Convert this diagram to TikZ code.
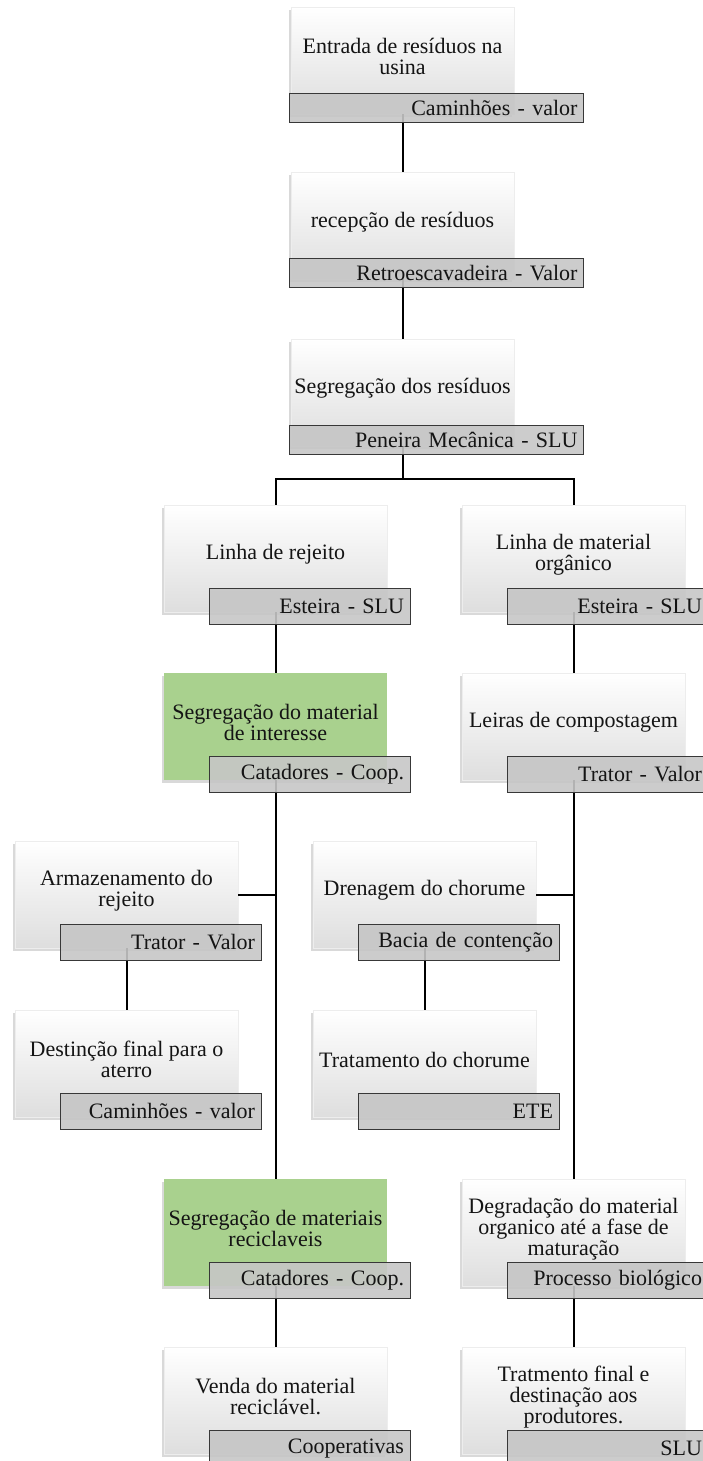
\documentclass[tikz,border=0pt]{standalone}
\usepackage{fontspec}
\setmainfont{Liberation Serif}
\usetikzlibrary{shadows}
\definecolor{boxgreen}{RGB}{169,209,142}
\definecolor{lblgray}{RGB}{198,198,198}
\definecolor{lbldraw}{RGB}{56,56,56}
\pgfdeclarelayer{back}
\pgfdeclarelayer{mid}
\pgfsetlayers{back,mid,main}
\newcommand{\mkunit}[7]{%
  \begin{pgfonlayer}{back}
    \node[#4] (#1) at (#2,#3) {};
  \end{pgfonlayer}
  \node[maintext] (#1t) at ([yshift=4pt]#1.center) {#5};
  \node[#7] (#1l) at ([xshift=34pt,yshift=6pt]#1.south) {#6};
}
\begin{document}
\begin{tikzpicture}[x=1pt,y=-1pt,
  basebox/.style={rectangle, anchor=north, minimum width=223pt, minimum height=107pt,
    inner sep=0pt, drop shadow={shadow xshift=-2pt, shadow yshift=-2.5pt, opacity=0.3}},
  whitebox/.style={basebox, draw=black!7, line width=0.4pt,
    top color=white, middle color=white, bottom color=black!13},
  greenbox/.style={basebox, fill=boxgreen},
  maintext/.style={align=center, inner sep=0pt, text=black!92,
    font=\fontsize{22}{21}\selectfont},
  lbl/.style={rectangle, draw=lbldraw, line width=1pt, fill=lblgray, fill opacity=0.9,
    text opacity=1, inner xsep=6pt, inner ysep=0pt, align=right, text=black!92,
    font=\fontsize{22}{22}\selectfont},
  lblstd/.style={lbl, text width=189pt, minimum height=36pt},
  lblwide/.style={lbl, text width=282pt, minimum height=29pt},
  conn/.style={draw=black, line width=2pt}
]
\useasboundingbox (0,0) rectangle (703,1461);

\mkunit{B1}{402.5}{7}{whitebox}{Entrada de resíduos na\\usina}{Caminhões - valor}{lblwide}
\mkunit{B2}{402.5}{172}{whitebox}{recepção de resíduos}{Retroescavadeira - Valor}{lblwide}
\mkunit{B3}{402.5}{339}{whitebox}{Segregação dos resíduos}{Peneira Mecânica - SLU}{lblwide}
\mkunit{R4}{275.5}{505}{whitebox}{Linha de rejeito}{Esteira - SLU}{lblstd}
\mkunit{O4}{573.5}{505}{whitebox}{Linha de material\\orgânico}{Esteira - SLU}{lblstd}
\mkunit{G5}{275.5}{673}{greenbox}{Segregação do material\\de interesse}{Catadores - Coop.}{lblstd}
\mkunit{L5}{573.5}{673}{whitebox}{Leiras de compostagem}{Trator - Valor}{lblstd}
\mkunit{A6}{126.5}{841}{whitebox}{Armazenamento do\\rejeito}{Trator - Valor}{lblstd}
\mkunit{D6}{424.5}{841}{whitebox}{Drenagem do chorume}{Bacia de contenção}{lblstd}
\mkunit{A7}{126.5}{1010}{whitebox}{Destinção final para o\\aterro}{Caminhões - valor}{lblstd}
\mkunit{D7}{424.5}{1010}{whitebox}{Tratamento do chorume}{ETE}{lblstd}
\mkunit{G8}{275.5}{1179}{greenbox}{Segregação de materiais\\reciclaveis}{Catadores - Coop.}{lblstd}
\mkunit{M8}{573.5}{1179}{whitebox}{Degradação do material\\organico até a fase de\\maturação}{Processo biológico}{lblstd}
\mkunit{V9}{275.5}{1347}{whitebox}{Venda do material\\reciclável.}{Cooperativas}{lblstd}
\mkunit{T9}{573.5}{1347}{whitebox}{Tratmento final e\\destinação aos\\produtores.}{SLU}{lblstd}

\begin{pgfonlayer}{mid}
  \draw[conn] (B1.south) -- (B2.north);
  \draw[conn] (B2.south) -- (B3.north);
  \coordinate (j3) at ([yshift=-33pt]B3.south);
  \draw[conn] (B3.south) -- (j3);
  \draw[conn] (j3) -| (R4.north);
  \draw[conn] (j3) -| (O4.north);
  \draw[conn] (R4.south) -- (G5.north);
  \draw[conn] (O4.south) -- (L5.north);
  \draw[conn] (G5.south) -- (G8.north);
  \draw[conn] (A6.east) -- (A6.east -| G5.south);
  \draw[conn] (L5.south) -- (M8.north);
  \draw[conn] (D6.east) -- (D6.east -| L5.south);
  \draw[conn] (A6.south) -- (A7.north);
  \draw[conn] (D6.south) -- (D7.north);
  \draw[conn] (G8.south) -- (V9.north);
  \draw[conn] (M8.south) -- (T9.north);
\end{pgfonlayer}
\end{tikzpicture}
\end{document}
